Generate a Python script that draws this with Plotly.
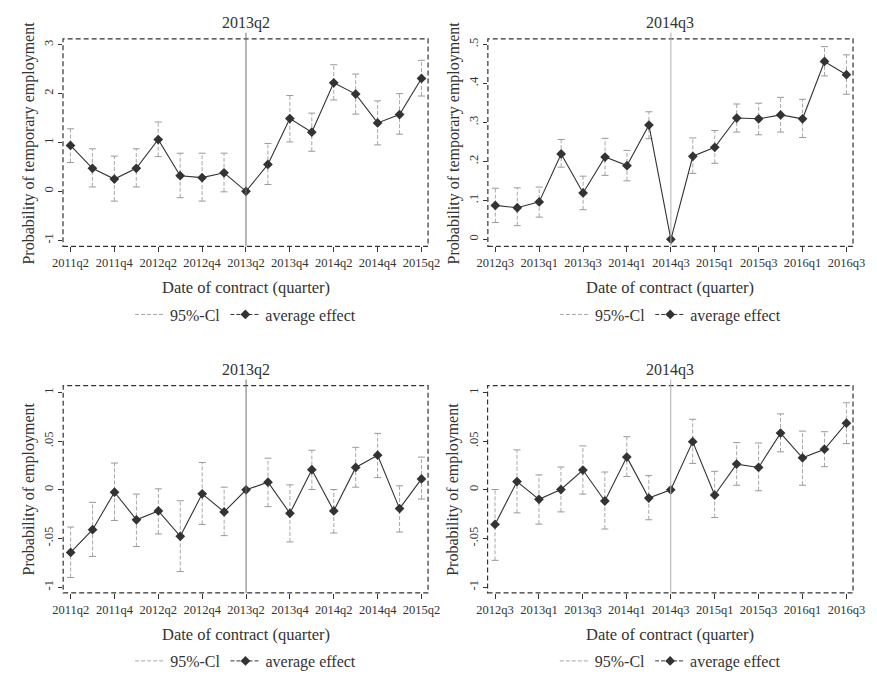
import plotly.graph_objects as go

# ---------------- data ----------------
quarters_a = ["2011q2", "2011q3", "2011q4", "2012q1", "2012q2", "2012q3", "2012q4", "2013q1",
              "2013q2", "2013q3", "2013q4", "2014q1", "2014q2", "2014q3", "2014q4", "2015q1", "2015q2"]
quarters_b = ["2012q3", "2012q4", "2013q1", "2013q2", "2013q3", "2013q4", "2014q1", "2014q2",
              "2014q3", "2014q4", "2015q1", "2015q2", "2015q3", "2015q4", "2016q1", "2016q2", "2016q3"]

event_a = "2013q2"
event_b = "2014q3"

# Panel 1: temporary employment, event 2013q2
temp_a_eff = [0.094, 0.047, 0.025, 0.047, 0.106, 0.032, 0.028, 0.038, 0.0, 0.055, 0.149, 0.121, 0.222, 0.199, 0.140, 0.157, 0.231]
temp_a_hi = [0.128, 0.087, 0.072, 0.087, 0.142, 0.078, 0.078, 0.078, None, 0.098, 0.196, 0.160, 0.259, 0.240, 0.185, 0.200, 0.268]
temp_a_lo = [0.059, 0.009, -0.020, 0.009, 0.071, -0.013, -0.020, -0.001, None, 0.014, 0.101, 0.082, 0.187, 0.158, 0.095, 0.117, 0.195]

# Panel 2: temporary employment, event 2014q3
temp_b_eff = [0.087, 0.081, 0.096, 0.219, 0.119, 0.211, 0.189, 0.293, 0.0, 0.213, 0.236, 0.311, 0.309, 0.319, 0.309, 0.456, 0.422]
temp_b_hi = [0.131, 0.132, 0.134, 0.256, 0.162, 0.259, 0.228, 0.327, None, 0.260, 0.279, 0.347, 0.349, 0.364, 0.359, 0.494, 0.473]
temp_b_lo = [0.043, 0.035, 0.057, 0.185, 0.076, 0.164, 0.150, 0.258, None, 0.169, 0.195, 0.275, 0.268, 0.275, 0.261, 0.419, 0.372]

# Panel 3: employment, event 2013q2
emp_a_eff = [-0.0644, -0.0410, -0.0024, -0.0308, -0.0217, -0.0478, -0.0041, -0.0227, 0.0, 0.0078, -0.0241, 0.0207, -0.0217, 0.0230, 0.0356, -0.0193, 0.0112]
emp_a_hi = [-0.0383, -0.0129, 0.0275, -0.0044, 0.0010, -0.0112, 0.0281, 0.0027, None, 0.0325, 0.0051, 0.0407, 0.0003, 0.0437, 0.0580, 0.0041, 0.0336]
emp_a_lo = [-0.0902, -0.0685, -0.0315, -0.0583, -0.0454, -0.0840, -0.0356, -0.0471, None, -0.0173, -0.0536, 0.0003, -0.0444, 0.0027, 0.0125, -0.0434, -0.0095]

# Panel 4: employment, event 2014q3
emp_b_eff = [-0.0356, 0.0085, -0.0098, 0.0003, 0.0203, -0.0115, 0.0336, -0.0085, 0.0, 0.0495, -0.0054, 0.0264, 0.0230, 0.0583, 0.0329, 0.0417, 0.0685]
emp_b_hi = [0.0003, 0.0410, 0.0153, 0.0234, 0.0451, 0.0183, 0.0546, 0.0146, None, 0.0725, 0.0190, 0.0485, 0.0481, 0.0780, 0.0603, 0.0597, 0.0895]
emp_b_lo = [-0.0725, -0.0237, -0.0353, -0.0227, -0.0044, -0.0403, 0.0136, -0.0308, None, 0.0271, -0.0285, 0.0047, -0.0010, 0.0390, 0.0047, 0.0237, 0.0475]

temp_a_ticks = [-0.1, 0.0, 0.1, 0.2, 0.3]
temp_a_ticktext = ["-1", "0", "1", "2", "3"]
temp_b_ticks = [0.0, 0.1, 0.2, 0.3, 0.4, 0.5]
temp_b_ticktext = ["0", ".1", ".2", ".3", ".4", ".5"]
emp_ticks = [-0.1, -0.05, 0.0, 0.05, 0.1]
emp_ticktext = ["-1", "-.05", "0", ".05", "1"]

y_title_temp = "Probability of temporary employment"
y_title_emp = "Probability of employment"
x_title = "Date of contract (quarter)"
ci_name = "95%-Cl"
eff_name = "average effect"

# ---------------- styling ----------------
W, H = 877, 678
FONT = "Liberation Serif"
TXT = "#333333"
DARK = "#333333"
CI_COL = "#a8a8a8"

panels = [
    dict(q=quarters_a, ev=event_a, eff=temp_a_eff, hi=temp_a_hi, lo=temp_a_lo,
         tv=temp_a_ticks, tt=temp_a_ticktext, yr=[-0.1126, 0.312], yt=y_title_temp,
         px=(53.4, 428.3), py=(38.3, 248.3), vcol="#707070"),
    dict(q=quarters_b, ev=event_b, eff=temp_b_eff, hi=temp_b_hi, lo=temp_b_lo,
         tv=temp_b_ticks, tt=temp_b_ticktext, yr=[-0.018, 0.514], yt=y_title_temp,
         px=(489.7, 864.7), py=(38.3, 248.3), vcol="#b0b0b0"),
    dict(q=quarters_a, ev=event_a, eff=emp_a_eff, hi=emp_a_hi, lo=emp_a_lo,
         tv=emp_ticks, tt=emp_ticktext, yr=[-0.106, 0.107], yt=y_title_emp,
         px=(53.6, 428.3), py=(389.3, 599.0), vcol="#707070"),
    dict(q=quarters_b, ev=event_b, eff=emp_b_eff, hi=emp_b_hi, lo=emp_b_lo,
         tv=emp_ticks, tt=emp_ticktext, yr=[-0.106, 0.107], yt=y_title_emp,
         px=(489.4, 864.7), py=(389.3, 599.0), vcol="#b0b0b0"),
]

fig = go.Figure()
layout = dict(width=W, height=H, margin=dict(l=0, r=0, t=0, b=0), autosize=False,
              plot_bgcolor="white", paper_bgcolor="white",
              font=dict(family=FONT, color=TXT, size=13), showlegend=True)
shapes = []
annotations = []

for i, p in enumerate(panels):
    n = "" if i == 0 else str(i + 1)
    xa, ya = "x" + n, "y" + n
    xkey, ykey = "xaxis" + n, "yaxis" + n
    q = p["q"]

    # CI dashed segments
    cx, cy, capx, capy = [], [], [], []
    for qq, lo, hi in zip(q, p["lo"], p["hi"]):
        if lo is None:
            continue
        cx += [qq, qq, None]
        cy += [lo, hi, None]
        capx += [qq, qq]
        capy += [lo, hi]
    fig.add_trace(go.Scatter(x=cx, y=cy, mode="lines", xaxis=xa, yaxis=ya,
                             line=dict(color=CI_COL, width=1, dash="4px,2px"),
                             showlegend=False, hoverinfo="skip"))
    fig.add_trace(go.Scatter(x=capx, y=capy, mode="markers", xaxis=xa, yaxis=ya,
                             marker=dict(symbol="line-ew", size=5, line=dict(color="#999999", width=1)),
                             showlegend=False, hoverinfo="skip"))
    # average effect
    fig.add_trace(go.Scatter(x=q, y=p["eff"], mode="lines+markers", xaxis=xa, yaxis=ya,
                             line=dict(color=DARK, width=1.1),
                             marker=dict(symbol="diamond", size=7.5, color=DARK),
                             showlegend=False))
    # legend-only traces
    lg = "legend" + n
    fig.add_trace(go.Scatter(x=[None], y=[None], mode="lines", xaxis=xa, yaxis=ya,
                             name=ci_name, legend=lg,
                             line=dict(color=CI_COL, width=1, dash="4px,2px")))
    fig.add_trace(go.Scatter(x=[None], y=[None], mode="lines+markers", xaxis=xa, yaxis=ya,
                             name=eff_name, legend=lg,
                             line=dict(color=DARK, width=1, dash="4px,2px"),
                             marker=dict(symbol="diamond", size=7.5, color=DARK)))

    x0, x1 = p["px"]
    y0, y1 = p["py"]
    layout[xkey] = dict(domain=[x0 / W, x1 / W], anchor=ya, type="category",
                        categoryorder="array", categoryarray=q,
                        range=[-0.34, 16.3], tickvals=q[::2], ticktext=q[::2],
                        ticks="outside", ticklen=5, tickcolor=DARK, tickwidth=1,
                        showline=False, showgrid=False, zeroline=False,
                        tickfont=dict(family=FONT, size=12.5, color=TXT))
    layout[ykey] = dict(domain=[(H - y1) / H, (H - y0) / H], anchor=xa,
                        range=p["yr"], tickvals=p["tv"], ticktext=p["tt"],
                        tickangle=-90, ticks="outside", ticklen=4, tickcolor=DARK, tickwidth=1,
                        showline=False, showgrid=False, zeroline=False,
                        tickfont=dict(family=FONT, size=12.5, color=TXT))

    # dashed frame
    shapes.append(dict(type="rect", xref=xa + " domain", yref=ya + " domain",
                       x0=0, x1=1, y0=0, y1=1, line=dict(color=DARK, width=1.2, dash="5px,3px"),
                       layer="below"))
    # event line
    ei = q.index(p["ev"])
    shapes.append(dict(type="line", xref=xa, yref=ya + " domain", x0=ei, x1=ei, y0=0, y1=1.03,
                       line=dict(color=p["vcol"], width=1)))

    cxp = (x0 + x1) / 2 / W
    # panel title
    annotations.append(dict(text=p["ev"], xref="paper", yref="paper", x=cxp, y=(H - (y0 - 16)) / H,
                            showarrow=False, font=dict(family=FONT, size=16, color=TXT),
                            xanchor="center", yanchor="middle"))
    # x title
    annotations.append(dict(text=x_title, xref="paper", yref="paper", x=cxp, y=(H - (y1 + 42)) / H,
                            showarrow=False, font=dict(family=FONT, size=16.5, color=TXT),
                            xanchor="center", yanchor="middle"))
    # y title
    annotations.append(dict(text=p["yt"], xref="paper", yref="paper", x=(x0 - 35) / W,
                            y=(H - (y0 + y1) / 2 - 0) / H, textangle=-90,
                            showarrow=False, font=dict(family=FONT, size=16, color=TXT),
                            xanchor="center", yanchor="middle"))
    # legend placement
    layout[lg] = dict(orientation="h", x=cxp, xanchor="center", y=(H - (y1 + 69)) / H,
                      yanchor="middle", font=dict(family=FONT, size=16, color=TXT),
                      bgcolor="rgba(0,0,0,0)", itemwidth=30, tracegroupgap=0)

layout["shapes"] = shapes
layout["annotations"] = annotations
fig.update_layout(**layout)
fig.write_html("out.html")
